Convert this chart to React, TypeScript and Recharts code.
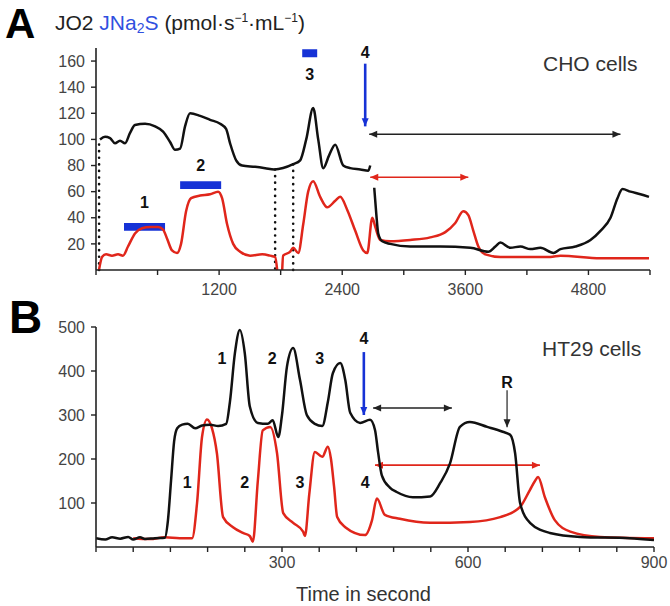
import React from 'react';
import {
  LineChart, Line, XAxis, YAxis, ReferenceArea, ReferenceLine, ReferenceDot,
} from 'recharts';

const FONT = '"Liberation Sans", Arial, Helvetica, sans-serif';
const RED = '#e0261b';
const BLUE = '#1632d6';
const INK = '#111';

// ---- panel A : CHO cells (time in s, flux in pmol/s/mL)
const choJo2Time = [39, 88, 137, 185, 234, 283, 332, 380, 478, 576, 654, 722, 771, 820, 868, 917, 1015, 1112, 1210, 1268, 1307, 1366, 1424, 1551, 1649, 1737,
  1922, 1990, 2049, 2117, 2166, 2215, 2273, 2332, 2410, 2478, 2576, 2654, 2673, 2690,
  2712, 2732, 2751, 2790, 2868, 3063, 3356, 3649, 3824, 3893, 3941, 4039, 4137, 4234, 4332, 4459, 4527, 4673, 4820, 4917, 5015, 5083, 5132, 5210, 5307, 5390];
const choJo2 = [100, 102, 101, 97, 99, 97, 105, 111, 112, 110, 106, 98, 92, 93, 110, 120, 118, 115, 112, 108, 97, 84, 80, 79, 78, 77,
  81, 84, 100, 124, 100, 78, 88, 96, 80, 78, 77, 76, 80, null,
  63, 43, 28, 22, 20, 18, 18, 17, 14, 18, 21, 17, 18, 16, 17, 13, 16, 18, 23, 30, 40, 55, 62, 60, 58, 56];
// dotted jumps of the black trace (chamber opening / reoxygenation)
const choJo2GapTime = [30, 30, null, 1746, 1746, null, 1922, 1922];
const choJo2Gap = [0, 100, null, 77, 0, null, 0, 81];

const choH2sTime = [29, 59, 98, 156, 215, 263, 312, 380, 449, 527, 605, 654, 693, 741, 790, 829, 878, 927, 1015, 1112, 1190, 1229, 1278, 1337, 1405, 1502, 1620, 1698, 1746, 1766, 1790,
  1815, 1824, 1893, 1922, 1971, 2020, 2068, 2117, 2185, 2254, 2332, 2380, 2449, 2527, 2605, 2644, 2693, 2722, 2771, 2868, 3063, 3258, 3405, 3502, 3580, 3629, 3678, 3727, 3795, 3941, 4429, 4527, 4917, 5390];
const choH2s = [0, 10, 12, 11, 12, 11, 18, 28, 32, 33, 33, 31, 24, 15, 13, 20, 45, 55, 57, 58, 60, 55, 35, 20, 14, 11, 12, 11, 10, 0, null,
  0, 11, 14, 17, 13, 35, 60, 68, 56, 48, 53, 56, 46, 30, 15, 13, 40, 33, 23, 22, 23, 25, 29, 36, 45, 42, 30, 18, 12, 10, 10, 11, 9, 9];

// Na2S additions (start, end, level low, level high)
const choNa2sStart = [273, 820, 2010];
const choNa2sEnd = [673, 1220, 2156];
const choNa2sLow = [30, 62, 163];
const choNa2sHigh = [36, 68, 169];
const choNa2sLabel = ['1', '2', '3'];
const choNa2sLabelY = [52, 80, 150];

const choTicks = [0, 600, 1200, 1800, 2400, 3000, 3600, 4200, 4800, 5400];
const choTickLabels = [1200, 2400, 3600, 4800];
const choYTicks = [20, 40, 60, 80, 100, 120, 140, 160];

// ---- panel B : HT29 cells
const htJo2Time = [0, 15, 26, 39, 52, 60, 71, 79, 95, 111, 116, 121, 126, 131, 139, 148, 160, 171, 184, 197, 210, 216, 224, 232, 240, 248, 261, 277, 285, 294, 300, 308, 318, 329, 340, 353, 365, 374, 382, 394, 402, 410, 426, 442, 450, 455,
  461, 474, 485, 511, 539, 555, 571, 587, 603, 631, 656, 668, 676, 684, 700, 732, 781, 861, 900];
const htJo2 = [20, 17, 22, 19, 23, 17, 22, 18, 20, 21, 60, 150, 240, 270, 278, 280, 270, 276, 278, 275, 280, 330, 440, 493, 440, 320, 282, 280, 288, 250, 300, 410, 452, 380, 300, 280, 275, 330, 395, 418, 380, 305, 282, 289, 266, 215,
  163, 135, 125, 113, 115, 145, 190, 273, 284, 273, 262, 255, 213, 100, 55, 32, 23, 20, 16];

const htH2sTime = [60, 87, 111, 135, 155, 163, 171, 179, 187, 195, 205, 221, 237, 248, 253, 261, 269, 281, 292, 302, 318, 334, 337, 344, 353, 365, 374, 379, 384, 389, 402, 434, 445, 453, 466, 490, 539, 603, 652, 684, 700, 708, 713, 724, 740, 765, 813, 900];
const htH2s = [20, 18, 22, 20, 20, 100, 250, 290, 270, 213, 68, 45, 32, 25, 12, 150, 265, 273, 213, 77, 55, 35, 25, 120, 216, 205, 228, 200, 137, 68, 45, 27, 60, 110, 73, 64, 55, 57, 68, 91, 130, 150, 159, 113, 61, 35, 23, 20];

const htTicks = [0, 60, 120, 180, 240, 300, 360, 420, 480, 540, 600, 660, 720, 780, 840, 900];
const htTickLabels = [300, 600, 900];
const htYTicks = [100, 200, 300, 400, 500];
const htPeakLabelTime = [203, 284, 361];
const htH2sLabelTime = [147, 240, 329, 434];

const zip = (t: (number | null)[], v: (number | null)[]) => t.map((x, i) => ({ t: x, v: v[i] }));

const arrow = (color: string, both: boolean, w = 1.6) => (p: any) => {
  const { x1, y1, x2, y2 } = p;
  const a = Math.atan2(y2 - y1, x2 - x1);
  const L = 8;
  const W = 3.5;
  const head = (x: number, y: number, ang: number) => {
    const bx = x - L * Math.cos(ang);
    const by = y - L * Math.sin(ang);
    return `${x},${y} ${bx - W * Math.sin(ang)},${by + W * Math.cos(ang)} ${bx + W * Math.sin(ang)},${by - W * Math.cos(ang)}`;
  };
  return (
    <g>
      <line x1={x1} y1={y1} x2={x2} y2={y2} stroke={color} strokeWidth={w} />
      <polygon points={head(x2, y2, a)} fill={color} />
      {both && <polygon points={head(x1, y1, a + Math.PI)} fill={color} />}
    </g>
  );
};

const tag = (text: string, color = INK) => ({
  value: text, position: 'center' as const, fill: color, fontSize: 16, fontWeight: 700, fontFamily: FONT,
});

const abs = (left: number, top: number, size: number, extra: React.CSSProperties = {}): React.CSSProperties => ({
  position: 'absolute', left, top, fontSize: size, lineHeight: 1, fontFamily: FONT, whiteSpace: 'nowrap', color: '#222', ...extra,
});

const tickStyle = { fontSize: 16, fill: '#444', fontFamily: FONT };
const axisStyle = { stroke: '#222', strokeWidth: 1.6 };
const tickLineStyle = { stroke: '#222', strokeWidth: 1.4 };

export default function App() {
  return (
    <div style={{ position: 'absolute', left: 0, top: 0, width: 670, height: 606, background: '#fff', overflow: 'hidden' }}>
      <div style={abs(5, 3, 42, { fontWeight: 700, color: '#000' })}>A</div>
      <div style={abs(55, 12, 21)}>
        JO2 <span style={{ color: '#3050e0' }}>JNa<sub style={{ fontSize: 14, verticalAlign: -3 }}>2</sub>S</span>{' '}
        (pmol·s<sup style={{ fontSize: 12 }}>−1</sup>·mL<sup style={{ fontSize: 12 }}>−1</sup>)
      </div>
      <div style={abs(543, 53, 21, { color: '#333' })}>CHO cells</div>

      <div style={{ position: 'absolute', left: 0, top: 0 }}>
        <LineChart width={670} height={300} margin={{ top: 48, right: 20, bottom: 0, left: 56 }}>
          <XAxis dataKey="t" type="number" domain={[0, 5400]} ticks={choTicks} allowDataOverflow
            tickFormatter={(v: number) => (choTickLabels.includes(v) ? String(v) : '')}
            height={30} tickSize={5} tickMargin={9} tick={tickStyle}
            axisLine={axisStyle} tickLine={tickLineStyle} />
          <YAxis type="number" domain={[0, 170]} ticks={choYTicks} width={40} tickSize={5} tickMargin={6} tick={tickStyle}
            axisLine={axisStyle} tickLine={tickLineStyle} />
          {choNa2sStart.map((s, i) => (
            <ReferenceArea key={'na' + i} x1={s} x2={choNa2sEnd[i]} y1={choNa2sLow[i]} y2={choNa2sHigh[i]}
              fill={BLUE} fillOpacity={1} stroke="none" ifOverflow="visible" />
          ))}
          {choNa2sStart.map((s, i) => (
            <ReferenceDot key={'nl' + i} x={(s + choNa2sEnd[i]) / 2} y={choNa2sLabelY[i]} r={0} fill="none" stroke="none"
              ifOverflow="visible" label={tag(choNa2sLabel[i])} />
          ))}
          <ReferenceDot x={2624} y={167} r={0} fill="none" stroke="none" ifOverflow="visible" label={tag('4')} />
          <ReferenceLine segment={[{ x: 2624, y: 158 }, { x: 2624, y: 110 }]} ifOverflow="visible" shape={arrow(BLUE, false, 2.6)} />
          <ReferenceLine segment={[{ x: 2663, y: 104 }, { x: 5112, y: 104 }]} ifOverflow="visible" shape={arrow('#222', true)} />
          <ReferenceLine segment={[{ x: 2673, y: 71 }, { x: 3629, y: 71 }]} ifOverflow="visible" shape={arrow(RED, true)} />
          <Line data={zip(choJo2GapTime, choJo2Gap)} dataKey="v" stroke="#111" strokeWidth={2.6} strokeDasharray="0.1 6.5"
            strokeLinecap="round" dot={false} isAnimationActive={false} connectNulls={false} />
          <Line type="monotone" data={zip(choH2sTime, choH2s)} dataKey="v" stroke={RED} strokeWidth={2.5} dot={false} isAnimationActive={false} connectNulls={false} />
          <Line type="monotone" data={zip(choJo2Time, choJo2)} dataKey="v" stroke="#111" strokeWidth={2.5} dot={false} isAnimationActive={false} connectNulls={false} />
        </LineChart>
      </div>

      <div style={abs(9, 294, 46, { fontWeight: 700, color: '#000' })}>B</div>
      <div style={abs(542, 338, 21, { color: '#333' })}>HT29 cells</div>
      <div style={abs(296, 584, 20, { color: '#333' })}>Time in second</div>

      <div style={{ position: 'absolute', left: 0, top: 300 }}>
        <LineChart width={670} height={306} margin={{ top: 27, right: 16, bottom: 29, left: 56 }}>
          <XAxis dataKey="t" type="number" domain={[0, 900]} ticks={htTicks} allowDataOverflow
            tickFormatter={(v: number) => (htTickLabels.includes(v) ? String(v) : '')}
            height={30} tickSize={5} tickMargin={5} tick={tickStyle}
            axisLine={axisStyle} tickLine={tickLineStyle} />
          <YAxis type="number" domain={[0, 500]} ticks={htYTicks} width={40} tickSize={5} tickMargin={6} tick={tickStyle}
            axisLine={axisStyle} tickLine={tickLineStyle} />
          {htPeakLabelTime.map((t, i) => (
            <ReferenceDot key={'pk' + i} x={t} y={429} r={0} fill="none" stroke="none" ifOverflow="visible" label={tag(String(i + 1))} />
          ))}
          {htH2sLabelTime.map((t, i) => (
            <ReferenceDot key={'hl' + i} x={t} y={148} r={0} fill="none" stroke="none" ifOverflow="visible" label={tag(String(i + 1))} />
          ))}
          <ReferenceDot x={432} y={474} r={0} fill="none" stroke="none" ifOverflow="visible" label={tag('4')} />
          <ReferenceDot x={663} y={375} r={0} fill="none" stroke="none" ifOverflow="visible" label={tag('R')} />
          <ReferenceLine segment={[{ x: 432, y: 443 }, { x: 432, y: 300 }]} ifOverflow="visible" shape={arrow(BLUE, false, 2.6)} />
          <ReferenceLine segment={[{ x: 663, y: 356 }, { x: 663, y: 272 }]} ifOverflow="visible" shape={arrow('#222', false, 1.2)} />
          <ReferenceLine segment={[{ x: 447, y: 316 }, { x: 574, y: 316 }]} ifOverflow="visible" shape={arrow('#222', true)} />
          <ReferenceLine segment={[{ x: 450, y: 186 }, { x: 716, y: 186 }]} ifOverflow="visible" shape={arrow(RED, true)} />
          <Line type="monotone" data={zip(htH2sTime, htH2s)} dataKey="v" stroke={RED} strokeWidth={2.5} dot={false} isAnimationActive={false} />
          <Line type="monotone" data={zip(htJo2Time, htJo2)} dataKey="v" stroke="#111" strokeWidth={2.5} dot={false} isAnimationActive={false} />
        </LineChart>
      </div>
    </div>
  );
}
